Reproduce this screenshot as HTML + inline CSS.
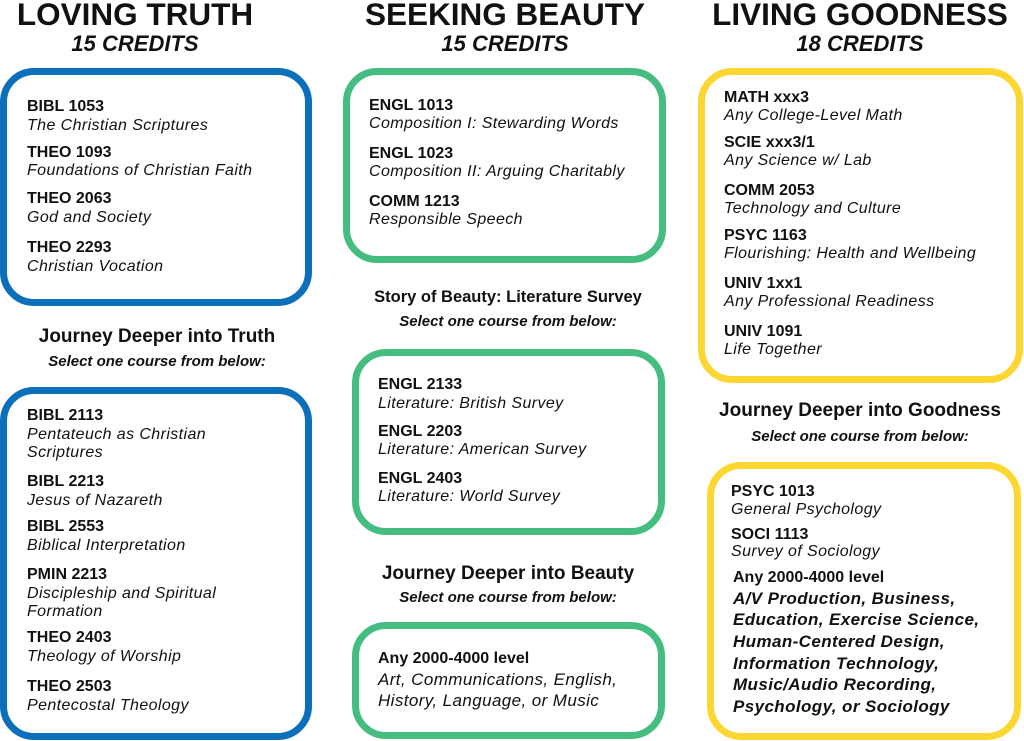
<!DOCTYPE html>
<html><head><style>
body{margin:0;width:1024px;height:741px;background:#fff;position:relative;overflow:hidden;font-family:"Liberation Sans",sans-serif;color:#111}
.b{position:absolute;box-sizing:border-box;border-radius:34px;border:7px solid}
.bl{border-color:#0b6fba}.gr{border-color:#45bd80}.ye{border-color:#fdd631}
.t{position:absolute;white-space:nowrap;line-height:20px;font-size:16px}
.c{font-weight:bold}
.i{font-style:italic;letter-spacing:0.4px}
.h{position:absolute;width:340px;text-align:center;white-space:nowrap;line-height:30px}
.h1{font-weight:bold;font-size:31.5px}
.h2{font-weight:bold;font-style:italic;font-size:22px}
.s1{font-weight:bold;font-size:19px}
.s2{font-weight:bold;font-style:italic;font-size:15px}
.big{font-size:17px}
</style></head><body>
<div class="b bl" style="left:0;top:68px;width:312px;height:238px"></div>
<div class="b bl" style="left:0;top:387px;width:312px;height:353px"></div>
<div class="b gr" style="left:343px;top:68px;width:323px;height:195px"></div>
<div class="b gr" style="left:352px;top:349px;width:313px;height:186px"></div>
<div class="b gr" style="left:352px;top:622px;width:313px;height:117px"></div>
<div class="b ye" style="left:698px;top:68px;width:325px;height:315px"></div>
<div class="b ye" style="left:707px;top:462px;width:314px;height:278px"></div>

<div class="h h1" style="left:-35px;top:-1px">LOVING TRUTH</div>
<div class="h h2" style="left:-35px;top:29px">15 CREDITS</div>
<div class="h h1" style="left:335px;top:-1px">SEEKING BEAUTY</div>
<div class="h h2" style="left:335px;top:29px">15 CREDITS</div>
<div class="h h1" style="left:690px;top:-1px">LIVING GOODNESS</div>
<div class="h h2" style="left:690px;top:29px">18 CREDITS</div>

<div class="t c" style="left:27px;top:97px">BIBL 1053</div>
<div class="t i" style="left:27px;top:116px">The Christian Scriptures</div>
<div class="t c" style="left:27px;top:143px">THEO 1093</div>
<div class="t i" style="left:27px;top:161px">Foundations of Christian Faith</div>
<div class="t c" style="left:27px;top:189px">THEO 2063</div>
<div class="t i" style="left:27px;top:208px">God and Society</div>
<div class="t c" style="left:27px;top:238px">THEO 2293</div>
<div class="t i" style="left:27px;top:257px">Christian Vocation</div>

<div class="h s1" style="left:-13px;top:322px">Journey Deeper into Truth</div>
<div class="h s2" style="left:-13px;top:347px">Select one course from below:</div>

<div class="t c" style="left:27px;top:406px">BIBL 2113</div>
<div class="t i" style="left:27px;top:425px">Pentateuch as Christian</div>
<div class="t i" style="left:27px;top:443px">Scriptures</div>
<div class="t c" style="left:27px;top:472px">BIBL 2213</div>
<div class="t i" style="left:27px;top:491px">Jesus of Nazareth</div>
<div class="t c" style="left:27px;top:517px">BIBL 2553</div>
<div class="t i" style="left:27px;top:536px">Biblical Interpretation</div>
<div class="t c" style="left:27px;top:565px">PMIN 2213</div>
<div class="t i" style="left:27px;top:584px">Discipleship and Spiritual</div>
<div class="t i" style="left:27px;top:602px">Formation</div>
<div class="t c" style="left:27px;top:628px">THEO 2403</div>
<div class="t i" style="left:27px;top:647px">Theology of Worship</div>
<div class="t c" style="left:27px;top:677px">THEO 2503</div>
<div class="t i" style="left:27px;top:696px">Pentecostal Theology</div>

<div class="t c" style="left:369px;top:96px">ENGL 1013</div>
<div class="t i" style="left:369px;top:114px">Composition I: Stewarding Words</div>
<div class="t c" style="left:369px;top:144px">ENGL 1023</div>
<div class="t i" style="left:369px;top:162px">Composition II: Arguing Charitably</div>
<div class="t c" style="left:369px;top:192px">COMM 1213</div>
<div class="t i" style="left:369px;top:210px">Responsible Speech</div>

<div class="h c" style="left:338px;top:282px;font-size:16.5px">Story of Beauty: Literature Survey</div>
<div class="h s2" style="left:338px;top:307px">Select one course from below:</div>

<div class="t c" style="left:378px;top:375px">ENGL 2133</div>
<div class="t i" style="left:378px;top:394px">Literature: British Survey</div>
<div class="t c" style="left:378px;top:422px">ENGL 2203</div>
<div class="t i" style="left:378px;top:440px">Literature: American Survey</div>
<div class="t c" style="left:378px;top:469px">ENGL 2403</div>
<div class="t i" style="left:378px;top:487px">Literature: World Survey</div>

<div class="h s1" style="left:338px;top:559px">Journey Deeper into Beauty</div>
<div class="h s2" style="left:338px;top:583px">Select one course from below:</div>

<div class="t c" style="left:378px;top:649px">Any 2000-4000 level</div>
<div class="t i big" style="left:378px;top:670px">Art, Communications, English,</div>
<div class="t i big" style="left:378px;top:691px">History, Language, or Music</div>

<div class="t c" style="left:724px;top:88px">MATH xxx3</div>
<div class="t i" style="left:724px;top:106px">Any College-Level Math</div>
<div class="t c" style="left:724px;top:133px">SCIE xxx3/1</div>
<div class="t i" style="left:724px;top:151px">Any Science w/ Lab</div>
<div class="t c" style="left:724px;top:181px">COMM 2053</div>
<div class="t i" style="left:724px;top:199px">Technology and Culture</div>
<div class="t c" style="left:724px;top:226px">PSYC 1163</div>
<div class="t i" style="left:724px;top:244px">Flourishing: Health and Wellbeing</div>
<div class="t c" style="left:724px;top:274px">UNIV 1xx1</div>
<div class="t i" style="left:724px;top:292px">Any Professional Readiness</div>
<div class="t c" style="left:724px;top:322px">UNIV 1091</div>
<div class="t i" style="left:724px;top:340px">Life Together</div>

<div class="h s1" style="left:690px;top:396px">Journey Deeper into Goodness</div>
<div class="h s2" style="left:690px;top:422px">Select one course from below:</div>

<div class="t c" style="left:731px;top:482px">PSYC 1013</div>
<div class="t i" style="left:731px;top:500px">General Psychology</div>
<div class="t c" style="left:731px;top:525px">SOCI 1113</div>
<div class="t i" style="left:731px;top:542px">Survey of Sociology</div>
<div class="t c" style="left:733px;top:568px">Any 2000-4000 level</div>
<div class="t i c big" style="left:733px;top:589px">A/V Production, Business,</div>
<div class="t i c big" style="left:733px;top:610px">Education, Exercise Science,</div>
<div class="t i c big" style="left:733px;top:632px">Human-Centered Design,</div>
<div class="t i c big" style="left:733px;top:654px">Information Technology,</div>
<div class="t i c big" style="left:733px;top:675px">Music/Audio Recording,</div>
<div class="t i c big" style="left:733px;top:697px">Psychology, or Sociology</div>
</body></html>
